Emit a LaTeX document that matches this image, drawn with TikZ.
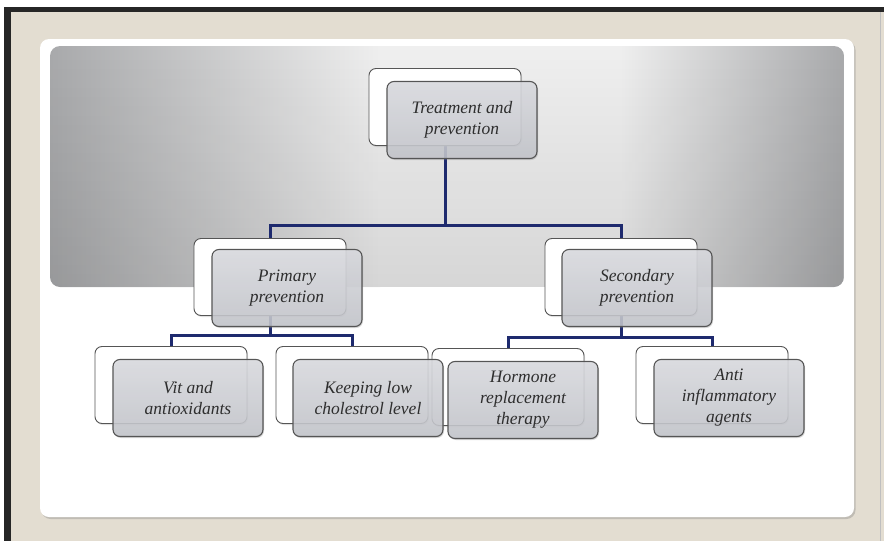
\documentclass[tikz,border=0pt]{standalone}
\usepackage{fontspec}
\setmainfont{Liberation Serif}
\usepackage{tikz}
\usetikzlibrary{shadows,backgrounds,fadings}
\definecolor{pagebeige}{HTML}{E3DDD1}
\definecolor{linkblue}{HTML}{1E2A6E}
\definecolor{boxedge}{HTML}{555555}
\definecolor{boxtop}{HTML}{DCDDE2}
\definecolor{boxbottom}{HTML}{C4C6CC}
\definecolor{bandgray}{HTML}{A9AAAC}
\definecolor{bandlight}{HTML}{EFEFEF}
\definecolor{textgray}{HTML}{2E2E2E}
\tikzset{
  backbox/.style={shape=rectangle, draw=boxedge, line width=0.9pt, fill=white,
    rounded corners=7pt, minimum width=152pt, minimum height=77pt,
    drop shadow={opacity=0.25, shadow xshift=1pt, shadow yshift=-1.5pt}},
  frontbox/.style={shape=rectangle, draw=boxedge, line width=1.1pt,
    top color=boxtop, bottom color=boxbottom, fill opacity=0.85, text opacity=1,
    rounded corners=7pt, minimum width=150pt, minimum height=77pt,
    align=center, text=textgray, font=\fontsize{17.5}{21}\selectfont\itshape,
    drop shadow={opacity=0.3, shadow xshift=1pt, shadow yshift=-1.5pt}},
  link/.style={draw=linkblue, line width=3pt},
}

\begin{document}
\begin{tikzpicture}[x=1pt, y=-1pt]
\useasboundingbox (0,0) rectangle (884,541);
% back cards
\node at (445, 107) [backbox] (top) {};
\node at (270, 277) [backbox] (prim) {};
\node at (621, 277) [backbox] (sec) {};
\node at (171, 385) [backbox] (vit) {};
\node at (352, 385) [backbox] (keep) {};
\node at (508, 387) [backbox] (horm) {};
\node at (712, 385) [backbox] (anti) {};
% front cards
\node at (462, 120) [frontbox] (topf) {Treatment and\\prevention};
\node at (287, 288) [frontbox] (primf) {Primary\\prevention};
\node at (637, 288) [frontbox] (secf) {Secondary\\prevention};
\node at (188, 398) [frontbox] (vitf) {Vit and\\antioxidants};
\node at (368, 398) [frontbox] (keepf) {Keeping low\\cholestrol level};
\node at (523, 400) [frontbox] (hormf) {Hormone\\replacement\\therapy};
\node at (729, 398) [frontbox] (antif) {Anti\\inflammatory\\agents};
\coordinate (bus1) at (445, 225);
\coordinate (bus2) at (270, 335);
\coordinate (bus3) at (621, 337);
\begin{pgfonlayer}{background}
% slide frame
\fill [white] (0,0) rectangle (884,541);
\fill [pagebeige] (4,7) rectangle (884,541);
\fill [black!85] (4,7) rectangle (11,541);
\fill [black!85] (4,7) rectangle (884,12);
\draw [black!25, line width=1pt] (880,12) -- (880,541);
% white panel and grey band
\fill [white, rounded corners=9pt, drop shadow={opacity=0.35, shadow xshift=1.5pt, shadow yshift=-2pt}] (40,39) rectangle (854,517);
\begin{scope}
\clip [rounded corners=10pt] (50,46) rectangle (844,287);
\shade [left color=bandgray, right color=bandlight] (50,46) rectangle (380,287);
\fill [bandlight] (379,46) rectangle (621,287);
\shade [left color=bandlight, right color=bandgray] (620,46) rectangle (844,287);
\fill [black, path fading=north, fill opacity=0.1] (50,46) rectangle (844,287);
\end{scope}
% connectors
\draw [link] (top) -- (bus1) -| (prim);
\draw [link] (bus1) -| (sec);
\draw [link] (prim) -- (bus2) -| (vit);
\draw [link] (bus2) -| (keep);
\draw [link] (sec) -- (bus3) -| (horm);
\draw [link] (bus3) -| (anti);
\end{pgfonlayer}
\end{tikzpicture}
\end{document}
